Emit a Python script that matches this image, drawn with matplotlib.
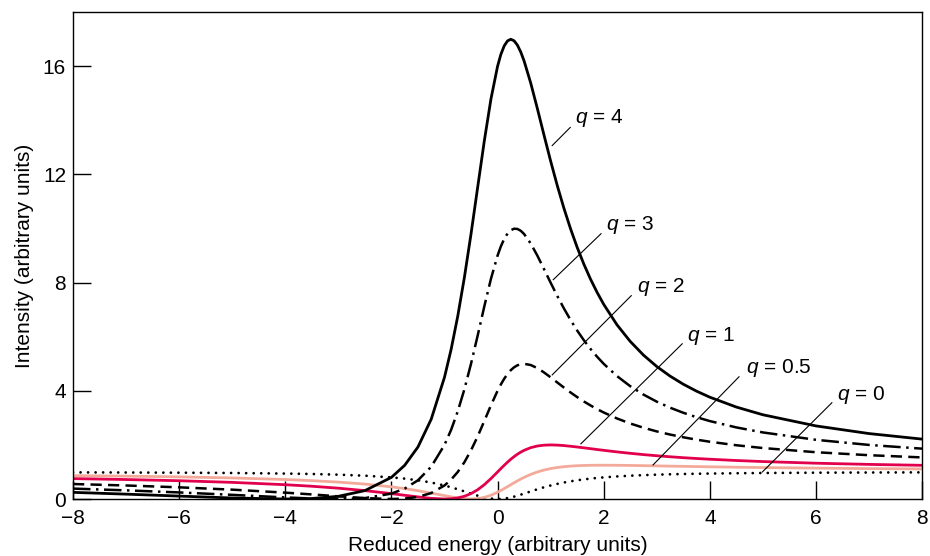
import matplotlib
matplotlib.use("Agg")
import matplotlib.pyplot as plt

plt.rcParams['font.family'] = ['Liberation Sans', 'DejaVu Sans']
plt.rcParams['mathtext.fontset'] = 'custom'
plt.rcParams['mathtext.it'] = 'Liberation Sans:italic'
plt.rcParams['mathtext.rm'] = 'Liberation Sans'

energy = [-8, -7, -6, -5, -4, -3.5, -3, -2.5, -2, -1.75, -1.5, -1.25, -1,
          -0.875, -0.75, -0.625, -0.5, -0.375, -0.25, -0.125,
          0,
          0.0625, 0.125, 0.1875, 0.25, 0.3125, 0.375, 0.4375, 0.5,
          0.625, 0.75, 0.875, 1,
          1.125, 1.25, 1.375, 1.5, 1.625, 1.75, 1.875, 2,
          2.25, 2.5, 2.75, 3, 3.25, 3.5, 3.75, 4,
          4.5, 5, 6, 7, 8]

# intensity for each q
q4 = [0.246, 0.18, 0.108, 0.038, 0.0, 0.019, 0.1, 0.31, 0.8, 1.246, 1.923,
      2.951, 4.5, 5.531, 6.76, 8.191, 9.8, 11.521, 13.235, 14.785,
      16.0,
      16.44, 16.754, 16.94, 17.0, 16.943, 16.781, 16.528, 16.2,
      15.382, 14.44, 13.46, 12.5,
      11.593, 10.756, 9.995, 9.308, 8.691, 8.138, 7.644, 7.2,
      6.443, 5.828, 5.321, 4.9, 4.546, 4.245, 3.988, 3.765,
      3.4, 3.115, 2.703, 2.42, 2.215]
q3 = [0.385, 0.32, 0.243, 0.154, 0.059, 0.019, 0.0, 0.034, 0.2, 0.385, 0.692,
      1.195, 2.0, 2.558, 3.24, 4.056, 5.0, 6.041, 7.118, 8.138,
      9.0,
      9.343, 9.615, 9.815, 9.941, 9.996, 9.986, 9.918, 9.8,
      9.449, 9.0, 8.504, 8.0,
      7.51, 7.049, 6.622, 6.231, 5.875, 5.554, 5.263, 5.0,
      4.546, 4.172, 3.861, 3.6, 3.378, 3.189, 3.025, 2.882,
      2.647, 2.462, 2.189, 2.0, 1.862]
q2 = [0.554, 0.5, 0.432, 0.346, 0.235, 0.17, 0.1, 0.034, 0.0, 0.015, 0.077,
      0.22, 0.5, 0.717, 1.0, 1.36, 1.8, 2.315, 2.882, 3.462,
      4.0,
      4.237, 4.446, 4.623, 4.765, 4.872, 4.945, 4.987, 5.0,
      4.955, 4.84, 4.681, 4.5,
      4.31, 4.122, 3.941, 3.769, 3.609, 3.462, 3.325, 3.2,
      2.979, 2.793, 2.635, 2.5, 2.384, 2.283, 2.195, 2.118,
      1.988, 1.885, 1.73, 1.62, 1.538]
q1 = [0.754, 0.72, 0.676, 0.615, 0.529, 0.472, 0.4, 0.31, 0.2, 0.138, 0.077,
      0.024, 0.0, 0.009, 0.04, 0.101, 0.2, 0.342, 0.529, 0.754,
      1.0,
      1.125, 1.246, 1.362, 1.471, 1.569, 1.658, 1.734, 1.8,
      1.899, 1.96, 1.991, 2.0,
      1.993, 1.976, 1.951, 1.923, 1.893, 1.862, 1.83, 1.8,
      1.742, 1.69, 1.642, 1.6, 1.562, 1.528, 1.498, 1.471,
      1.424, 1.385, 1.324, 1.28, 1.246]
q05 = [0.865, 0.845, 0.818, 0.779, 0.721, 0.679, 0.625, 0.552, 0.45, 0.385,
       0.308, 0.22, 0.125, 0.08, 0.04, 0.011, 0.0, 0.014, 0.059, 0.138,
       0.25,
       0.315, 0.385, 0.457, 0.529, 0.601, 0.671, 0.738, 0.8,
       0.91, 1.0, 1.071, 1.125,
       1.166, 1.195, 1.216, 1.231, 1.24, 1.246, 1.249, 1.25,
       1.247, 1.241, 1.234, 1.225, 1.216, 1.208, 1.199, 1.191,
       1.176, 1.163, 1.142, 1.125, 1.112]
q0 = [0.985, 0.98, 0.973, 0.962, 0.941, 0.925, 0.9, 0.862, 0.8, 0.754, 0.692,
      0.61, 0.5, 0.434, 0.36, 0.281, 0.2, 0.123, 0.059, 0.015,
      0.0,
      0.004, 0.015, 0.034, 0.059, 0.089, 0.123, 0.161, 0.2,
      0.281, 0.36, 0.434, 0.5,
      0.559, 0.61, 0.654, 0.692, 0.725, 0.754, 0.779, 0.8,
      0.835, 0.862, 0.883, 0.9, 0.914, 0.925, 0.934, 0.941,
      0.953, 0.962, 0.973, 0.98, 0.985]

labels = ["4", "3", "2", "1", "0.5", "0"]

fig = plt.figure(figsize=(9.3, 5.56), dpi=100)
ax = fig.add_axes([0.0785, 0.1025, 0.913, 0.8755])

# draw back to front
ax.plot(energy, q0, color="black", lw=2.0, linestyle=(0, (0.01, 2.7)),
        dash_capstyle="round")
ax.plot(energy, q05, color="#f3aa9a", lw=2.0)
ax.plot(energy, q1, color="#e2004e", lw=2.0)
ax.plot(energy, q2, color="black", lw=1.8, linestyle=(0, (4.5, 2.5)))
ax.plot(energy, q3, color="black", lw=1.8, linestyle=(0, (7, 2.2, 1, 2.2)))
ax.plot(energy, q4, color="black", lw=2.0)

# label text positions and leader lines
text_pos = [(1.46, 13.91), (2.045, 9.96), (2.63, 7.67), (3.57, 5.83),
            (4.68, 4.66), (6.40, 3.67)]
leaders = [((1.37, 13.74), (1.03, 13.07)),
           ((1.95, 9.81), (1.05, 8.11)),
           ((2.52, 7.52), (1.03, 4.59)),
           ((3.48, 5.74), (1.57, 2.04)),
           ((4.55, 4.52), (2.93, 1.26)),
           ((6.30, 3.56), (4.99, 1.0))]
for lab, (tx, ty), (p0, p1) in zip(labels, text_pos, leaders):
    ax.text(tx, ty, "$q$ = " + lab, fontsize=15, ha="left", va="baseline")
    ax.plot([p0[0], p1[0]], [p0[1], p1[1]], color="black", lw=0.8)

ax.set_xlim(-8, 8)
ax.set_ylim(0, 18)
ax.set_xticks(range(-8, 9, 2))
ax.set_yticks([0, 4, 8, 12, 16])
ax.tick_params(direction="in", length=13, width=1.0, labelsize=15)
ax.tick_params(axis="x", pad=7)
ax.tick_params(axis="y", pad=5)
for s in ax.spines.values():
    s.set_linewidth(1.0)

ax.set_xlabel("Reduced energy (arbitrary units)", fontsize=15, labelpad=6)
ax.set_ylabel("Intensity (arbitrary units)", fontsize=15, labelpad=6)

fig.savefig("out.png", dpi=100)
